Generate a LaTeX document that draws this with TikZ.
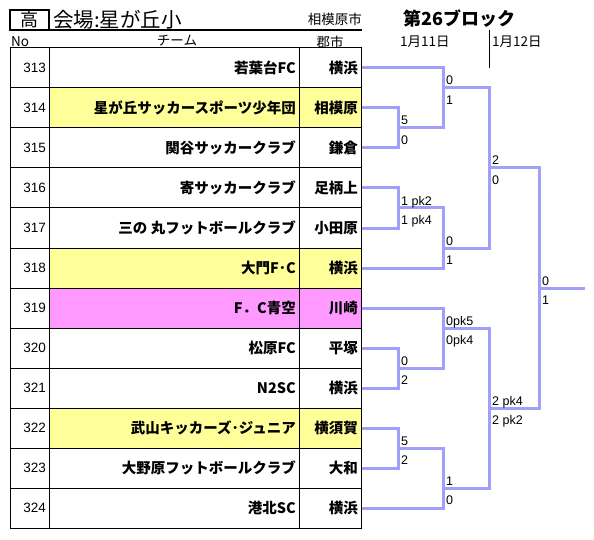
\documentclass[tikz,border=0pt]{standalone}
\usepackage{fontspec}
\setmainfont{Liberation Sans}
\newfontfamily\jpfont{Noto Sans CJK JP}
\usepackage{xcolor}
\usepackage{tikz}
\usetikzlibrary{positioning,calc}
\definecolor{brline}{RGB}{160,160,250}
\definecolor{cellyellow}{RGB}{255,255,153}
\definecolor{cellpink}{RGB}{255,153,255}

\tikzset{
  gridline/.style={draw=black,line width=1pt},
  notext/.style={anchor=east,inner sep=0pt,font=\fontsize{13.5}{14}\selectfont},
  teamtext/.style={anchor=east,inner sep=0pt,font=\jpfont\bfseries\fontsize{14.5}{15}\selectfont},
  headtext/.style={inner sep=0pt,font=\jpfont\fontsize{13.5}{14}\selectfont},
  bracket/.style={draw=brline,line width=3pt,line join=miter},
  scoreup/.style={anchor=base west,inner sep=0pt,xshift=3pt,yshift=3pt,font=\fontsize{12.5}{13}\selectfont},
  scoredown/.style={anchor=base west,inner sep=0pt,xshift=3pt,yshift=-16.5pt,font=\fontsize{12.5}{13}\selectfont},
}

\begin{document}
\begin{tikzpicture}[x=1pt,y=-1pt]
\useasboundingbox (0,0) rectangle (594,540);

% title lines
\draw[line width=1.5pt] (10,10) rectangle (49,30);
\node[inner sep=0pt,font=\jpfont\fontsize{18}{18}\selectfont] (grade) at (29.5,20) {高};
\node[inner sep=0pt,anchor=west,font=\jpfont\fontsize{20.5}{21}\selectfont] (venue) at (53,19.5) {会場:星が丘小};
\node[headtext,anchor=east] (town) at (362,19) {相模原市};
\draw[line width=1.2pt] (10,30) -- (362,30);
\node[inner sep=0pt,anchor=west,font=\jpfont\bfseries\fontsize{18}{18}\selectfont] (block) at (403,19) {第26ブロック};
\node[headtext,anchor=west] (hno) at (11,42) {No};
\node[headtext] (hteam) at (177,41) {チーム};
\node[headtext] (hcity) at (330,42) {郡市};
\node[headtext,anchor=west] (day1) at (400,42) {1月11日};
\node[headtext,anchor=west] (day2) at (492,42) {1月12日};
\draw[line width=1pt] (489,30) -- (489,68);

% team rows
\foreach \no/\team/\city/\shade [count=\i from 0] in {
  313/若葉台FC/横浜/white,
  314/星が丘サッカースポーツ少年団/相模原/cellyellow,
  315/関谷サッカークラブ/鎌倉/white,
  316/寄サッカークラブ/足柄上/white,
  317/三の 丸フットボールクラブ/小田原/white,
  318/大門F･C/横浜/cellyellow,
  319/F．C青空/川崎/cellpink,
  320/松原FC/平塚/white,
  321/N2SC/横浜/white,
  322/武山キッカーズ･ジュニア/横須賀/cellyellow,
  323/大野原フットボールクラブ/大和/white,
  324/港北SC/横浜/white}{
  \pgfmathsetmacro\rowy{48+40*\i}
  \fill[\shade] (49,\rowy) rectangle (361,\rowy+40);
  \draw[gridline] (10,\rowy) -- (361,\rowy);
  \node[notext] (n\no) at (46,\rowy+20) {\no};
  \node[teamtext] (tm\no) at (296,\rowy+20) {\team};
  \node[teamtext] (c\no) at (358,\rowy+20) {\city};
  \coordinate (e\no) at (362,\rowy+20);
}
\draw[gridline] (10,48) rectangle (361,528);
\draw[gridline] (49,48) -- (49,528);
\draw[gridline] (299,48) -- (299,528);

% junctions
\coordinate (m1) at (398,128);
\coordinate (m2) at (398,208);
\coordinate (m3) at (398,368);
\coordinate (m4) at (398,448);
\coordinate (q1) at (443,88);
\coordinate (q2) at (443,248);
\coordinate (q3) at (443,328);
\coordinate (q4) at (443,488);
\coordinate (s1) at (489,168);
\coordinate (s2) at (489,408);
\coordinate (fin) at (539,288);
\coordinate (champ) at (585,288);

% bracket
\draw[bracket] (e314) -| (m1) |- (e315);
\draw[bracket] (e316) -| (m2) |- (e317);
\draw[bracket] (e320) -| (m3) |- (e321);
\draw[bracket] (e322) -| (m4) |- (e323);
\draw[bracket] (e313) -| (q1) |- (m1);
\draw[bracket] (m2) -| (q2) |- (e318);
\draw[bracket] (e319) -| (q3) |- (m3);
\draw[bracket] (m4) -| (q4) |- (e324);
\draw[bracket] (q1) -| (s1) |- (q2);
\draw[bracket] (q3) -| (s2) |- (q4);
\draw[bracket] (s1) -| (fin) |- (s2);
\draw[bracket] (fin) -- (champ);

% scores
\node[scoreup] at (m1) {5};      \node[scoredown] at (m1) {0};
\node[scoreup] at (m2) {1 pk2};  \node[scoredown] at (m2) {1 pk4};
\node[scoreup] at (m3) {0};      \node[scoredown] at (m3) {2};
\node[scoreup] at (m4) {5};      \node[scoredown] at (m4) {2};
\node[scoreup] at (q1) {0};      \node[scoredown] at (q1) {1};
\node[scoreup] at (q2) {0};      \node[scoredown] at (q2) {1};
\node[scoreup] at (q3) {0pk5};   \node[scoredown] at (q3) {0pk4};
\node[scoreup] at (q4) {1};      \node[scoredown] at (q4) {0};
\node[scoreup] at (s1) {2};      \node[scoredown] at (s1) {0};
\node[scoreup] at (s2) {2 pk4};  \node[scoredown] at (s2) {2 pk2};
\node[scoreup] at (fin) {0};     \node[scoredown] at (fin) {1};
\end{tikzpicture}
\end{document}
